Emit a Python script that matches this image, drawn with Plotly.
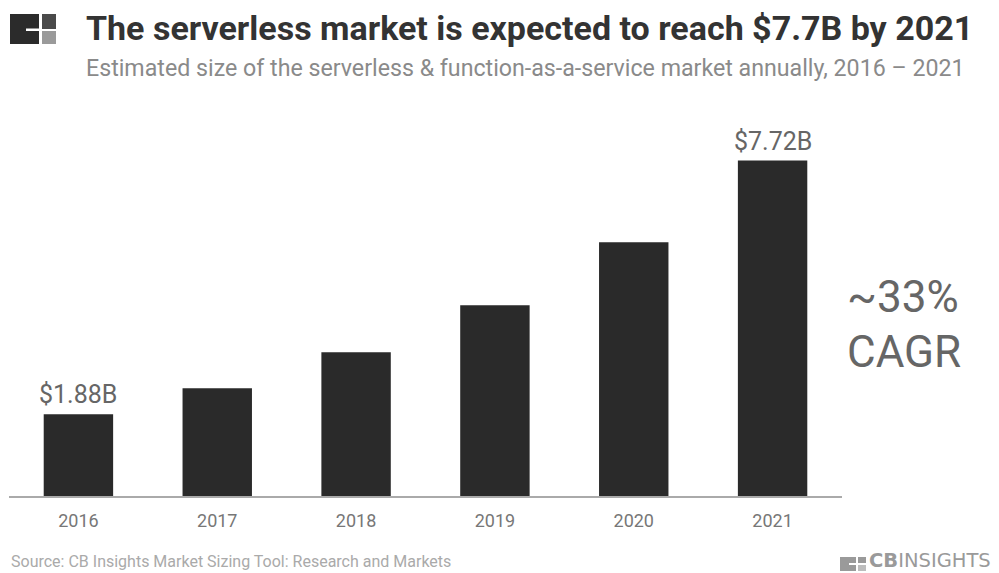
import plotly.graph_objects as go

# Serverless / FaaS market size, $B
years = ["2016", "2017", "2018", "2019", "2020", "2021"]
market_size = [1.88, 2.48, 3.31, 4.39, 5.84, 7.72]
labeled_years = ["2016", "2021"]

W, H = 999, 573
L, R, T, B = 9, 157, 105, 77
PW, PH = W - L - R, H - T - B


def px(x):
    return (x - L) / PW


def py(y):
    return (H - B - y) / PH


fig = go.Figure(
    go.Bar(
        x=years,
        y=market_size,
        marker=dict(color="#2a2a2a", line=dict(width=0)),
        width=0.5,
        cliponaxis=False,
        hoverinfo="x+y",
    )
)

# value callouts on the first and last bars (category axis positions by index)
value_labels = [
    dict(text=f"${v:.2f}B", x=i, y=v, xref="x", yref="y", xanchor="center",
         yanchor="bottom", yshift=3, showarrow=False,
         font=dict(family="Roboto", size=25, color="#666666"))
    for i, (yr, v) in enumerate(zip(years, market_size)) if yr in labeled_years
]


def rect(x0, x1, y0, y1, color):
    return dict(type="rect", xref="paper", yref="paper", x0=px(x0), x1=px(x1),
                y0=py(y1), y1=py(y0), fillcolor=color, line=dict(width=0), layer="above")


shapes = [
    # header logo
    rect(10, 39, 14, 44, "#2b2b2b"),
    rect(26, 40, 28.5, 31, "white"),
    rect(42, 56, 14, 29, "#4a4a4a"),
    rect(42, 56, 31, 44, "#9a9a9a"),
    # footer logo
    rect(840, 856, 557, 571, "#9a9a9a"),
    rect(849, 857, 563, 565, "white"),
    rect(858, 866, 557, 563, "#9a9a9a"),
    rect(858, 866, 565, 571, "#bdbdbd"),
]

annotations = value_labels + [
    dict(text="<b>The serverless market is expected to reach $7.7B by 2021</b>",
         x=px(84), y=py(28), xref="paper", yref="paper", xanchor="left", yanchor="middle",
         showarrow=False, font=dict(family="Roboto", size=34, color="#333333")),
    dict(text="Estimated size of the serverless &amp; function-as-a-service market annually, 2016 – 2021",
         x=px(84), y=py(68), xref="paper", yref="paper", xanchor="left", yanchor="middle",
         showarrow=False, font=dict(family="Roboto", size=23.2, color="#8a8a8a")),
    dict(text="~33%", x=px(903), y=py(297), xref="paper", yref="paper", xanchor="center",
         yanchor="middle", showarrow=False, font=dict(family="Roboto", size=44, color="#666666")),
    dict(text="CAGR", x=px(904), y=py(352), xref="paper", yref="paper", xanchor="center",
         yanchor="middle", showarrow=False, font=dict(family="Roboto", size=44, color="#666666")),
    dict(text="Source: CB Insights Market Sizing Tool: Research and Markets",
         x=px(9), y=py(573), xref="paper", yref="paper", xanchor="left", yanchor="bottom",
         showarrow=False, font=dict(family="Roboto", size=16, color="#aaaaaa")),
    dict(text="<b>CB</b>INSIGHTS", x=px(867), y=py(574), xref="paper", yref="paper",
         xanchor="left", yanchor="bottom", showarrow=False,
         font=dict(family="DejaVu Sans", size=19.5, color="#9a9a9a")),
]

fig.update_layout(
    width=W, height=H,
    margin=dict(l=L, r=R, t=T, b=B),
    paper_bgcolor="white", plot_bgcolor="white",
    showlegend=False,
    shapes=shapes,
    annotations=annotations,
    xaxis=dict(
        type="category",
        range=[-0.5, 5.5],
        showline=True, linecolor="#aaaaaa", linewidth=2,
        showgrid=False, zeroline=False,
        ticks="outside", ticklen=7, tickcolor="rgba(0,0,0,0)",
        tickfont=dict(family="Roboto", size=18, color="#777777"),
        fixedrange=True,
    ),
    yaxis=dict(
        range=[0, 9], visible=False, showgrid=False, zeroline=False, fixedrange=True,
    ),
)

fig.write_html("out.html")
